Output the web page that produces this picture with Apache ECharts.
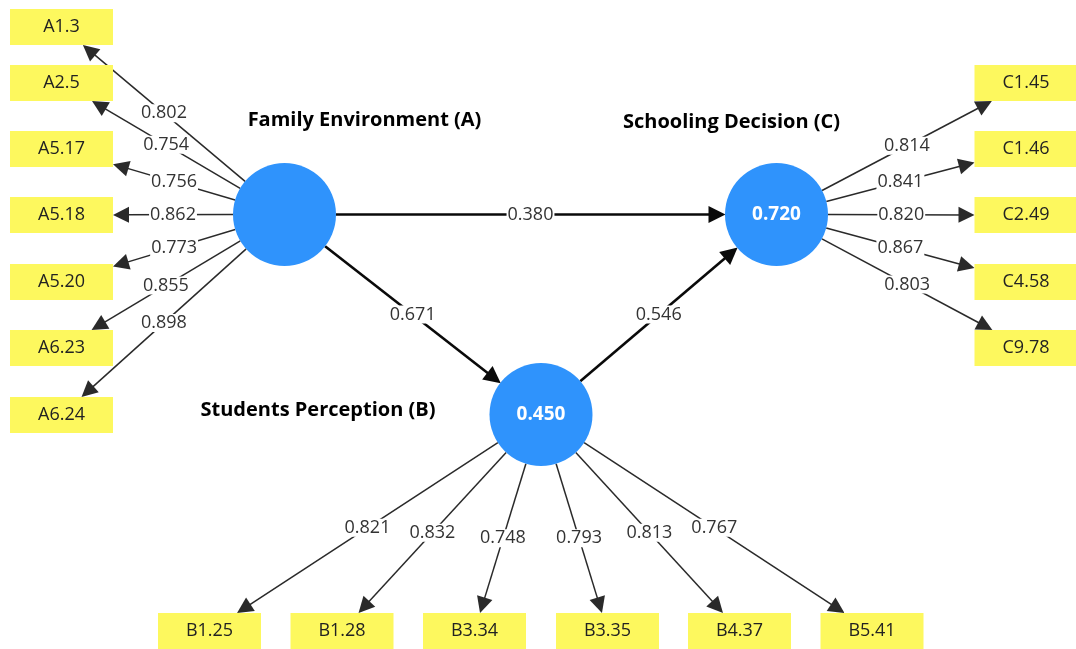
<!DOCTYPE html>
<html>
<head>
<meta charset="utf-8">
<script src="https://cdn.jsdelivr.net/npm/echarts@6/dist/echarts.min.js"></script>
<style>
html,body{margin:0;padding:0;background:#fff;}
#main{width:1076px;height:649px;}
</style>
</head>
<body>
<div id="main"></div>
<script>
// latent variables and R square
var constructs = ['Family Environment (A)', 'Students Perception (B)', 'Schooling Decision (C)'];
var rSquare = [null, 0.450, 0.720];

// indicators and outer loadings
var itemsA = ['A1.3', 'A2.5', 'A5.17', 'A5.18', 'A5.20', 'A6.23', 'A6.24'];
var loadA = [0.802, 0.754, 0.756, 0.862, 0.773, 0.855, 0.898];
var itemsB = ['B1.25', 'B1.28', 'B3.34', 'B3.35', 'B4.37', 'B5.41'];
var loadB = [0.821, 0.832, 0.748, 0.793, 0.813, 0.767];
var itemsC = ['C1.45', 'C1.46', 'C2.49', 'C4.58', 'C9.78'];
var loadC = [0.814, 0.841, 0.820, 0.867, 0.803];

// inner model (path coefficients)
var pathFrom = [0, 0, 1];
var pathTo = [2, 1, 2];
var pathCoef = [0.380, 0.671, 0.546];

// layout, in pixels
var cPos = [[284.5, 214.5], [541, 414.5], [776.5, 214.5]];
var R = 51.5;
var boxW = 103, boxH = 36;
var aX = 61.5, aY = [27, 83, 149, 215, 282, 348, 415];
var bX = [209.5, 342, 474.5, 607.5, 739.5, 872], bY = 631;
var cX = 1026, cY = [83, 149, 215, 282, 348];
var nameOffset = [[80, -94], [-223, -4], [-45, -92]];
var ARROW = 16;

var BLUE = '#2f93fc', YELLOW = '#fdf85e';

function unit(p, q) {
	var dx = q[0] - p[0], dy = q[1] - p[1];
	var l = Math.sqrt(dx * dx + dy * dy);
	return [dx / l, dy / l];
}
// point where the centre-to-centre line enters the box
function boxEntry(p, q) {
	var dx = q[0] - p[0], dy = q[1] - p[1];
	var sx = dx ? boxW / 2 / Math.abs(dx) : Infinity;
	var sy = dy ? boxH / 2 / Math.abs(dy) : Infinity;
	var s = Math.min(sx, sy);
	return [q[0] - dx * s, q[1] - dy * s];
}

var boxes = [], loadLines = [], pathLines = [], labels = [];

function addBlock(ci, names, loads, pos) {
	var c = cPos[ci];
	for (var i = 0; i < names.length; i++) {
		var q = pos(i);
		boxes.push([q[0], q[1], names[i]]);
		var u = unit(c, q);
		var a = [c[0] + u[0] * R, c[1] + u[1] * R];
		var b = boxEntry(c, q);
		var e = [b[0] - u[0] * ARROW / 2, b[1] - u[1] * ARROW / 2];
		loadLines.push({coords: [a, e]});
		labels.push([(a[0] + b[0]) / 2, (a[1] + b[1]) / 2, loads[i]]);
	}
}
addBlock(0, itemsA, loadA, function (i) { return [aX, aY[i]]; });
addBlock(1, itemsB, loadB, function (i) { return [bX[i], bY]; });
addBlock(2, itemsC, loadC, function (i) { return [cX, cY[i]]; });

for (var k = 0; k < pathCoef.length; k++) {
	var p = cPos[pathFrom[k]], q = cPos[pathTo[k]];
	var u = unit(p, q);
	var a = [p[0] + u[0] * R, p[1] + u[1] * R];
	var b = [q[0] - u[0] * R, q[1] - u[1] * R];
	var e = [b[0] - u[0] * ARROW / 2, b[1] - u[1] * ARROW / 2];
	pathLines.push({coords: [a, e]});
	labels.push([(a[0] + b[0]) / 2, (a[1] + b[1]) / 2, pathCoef[k]]);
}

var circles = [], titles = [];
for (var j = 0; j < constructs.length; j++) {
	circles.push([cPos[j][0], cPos[j][1], rSquare[j]]);
	titles.push({value: [cPos[j][0], cPos[j][1], constructs[j]], label: {offset: nameOffset[j]}});
}

var myChart = echarts.init(document.getElementById('main'));
var option = {
	animation: false,
	backgroundColor: '#fff',
	grid: {left: 0, right: 0, top: 0, bottom: 0},
	xAxis: {type: 'value', min: 0, max: 1076, show: false},
	yAxis: {type: 'value', min: 0, max: 649, inverse: true, show: false},
	series: [
		{
			name: 'loadings', type: 'lines', coordinateSystem: 'cartesian2d', z: 1,
			symbol: ['none', 'triangle'], symbolSize: ARROW,
			lineStyle: {color: '#2a2a2a', width: 1.5, opacity: 1},
			data: loadLines
		},
		{
			name: 'paths', type: 'lines', coordinateSystem: 'cartesian2d', z: 1,
			symbol: ['none', 'triangle'], symbolSize: ARROW + 1,
			lineStyle: {color: '#0a0a0a', width: 2.6, opacity: 1},
			data: pathLines
		},
		{
			name: 'coef', type: 'scatter', z: 4, symbolSize: 1,
			itemStyle: {color: 'rgba(0,0,0,0)', opacity: 1},
			label: {
				show: true, position: 'inside', color: '#333', fontSize: 18,
				fontFamily: 'Open Sans', backgroundColor: '#fff', padding: [0, 1],
				formatter: function (d) { return d.value[2].toFixed(3); }
			},
			data: labels
		},
		{
			name: 'items', type: 'scatter', z: 3, symbol: 'rect', symbolSize: [boxW, boxH],
			itemStyle: {color: YELLOW, opacity: 1},
			label: {
				show: true, position: 'inside', color: '#222', fontSize: 18,
				fontFamily: 'Open Sans',
				formatter: function (d) { return d.value[2]; }
			},
			data: boxes
		},
		{
			name: 'constructs', type: 'scatter', z: 3, symbol: 'circle', symbolSize: R * 2,
			itemStyle: {color: BLUE, opacity: 1},
			label: {
				show: true, position: 'inside', color: '#fff', fontSize: 19, fontWeight: 'bold',
				fontFamily: 'Open Sans',
				formatter: function (d) { return d.value[2] == null ? '' : d.value[2].toFixed(3); }
			},
			data: circles
		},
		{
			name: 'names', type: 'scatter', z: 5, symbolSize: 1,
			itemStyle: {color: 'rgba(0,0,0,0)', opacity: 1},
			label: {
				show: true, position: 'inside', color: '#000', fontSize: 20, fontWeight: 'bold',
				fontFamily: 'Open Sans',
				formatter: function (d) { return d.value[2]; }
			},
			data: titles
		}
	]
};
myChart.setOption(option);
</script>
</body>
</html>
